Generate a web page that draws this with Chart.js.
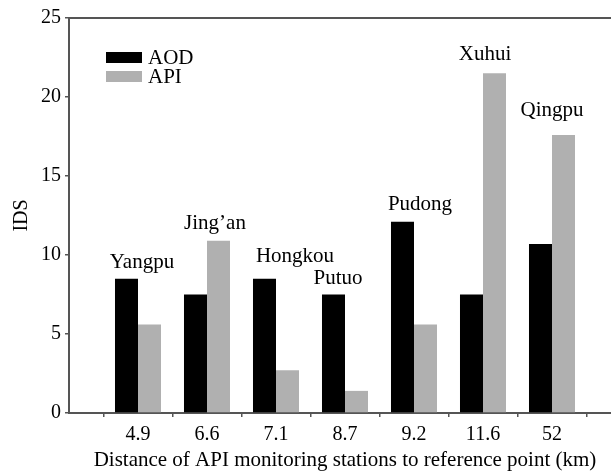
<!DOCTYPE html>
<html>
<head>
<meta charset="utf-8">
<script src="https://cdn.jsdelivr.net/npm/chart.js@4.4.1/dist/chart.umd.min.js"></script>
<style>
html,body{margin:0;padding:0;background:#fff;overflow:hidden;width:611px;height:473px;}
#wrap{width:630px;height:473px;}
</style>
</head>
<body>
<div id="wrap"><canvas id="c" width="630" height="473"></canvas></div>
<script>
// ---- data ----
const distances = ['', '4.9', '6.6', '7.1', '8.7', '9.2', '11.6', '52', ''];
const stations = ['', 'Yangpu', "Jing\u2019an", 'Hongkou', 'Putuo', 'Pudong', 'Xuhui', 'Qingpu', ''];
const aodValues = [null, 8.5, 7.5, 8.5, 7.5, 12.1, 7.5, 10.7, null];
const apiValues = [null, 5.6, 10.9, 2.7, 1.4, 5.6, 21.5, 17.6, null];
const yTicks = [0, 5, 10, 15, 20, 25];

// ---- label layout (pixel offsets, not data) ----
const labelDx = [0, 4, 8, 19, -7, 6, 2, 0, 0];
const labelDy = [0, 16, 17, 22, 16, 17, 19, 24, 0];

const FONT = "'Liberation Serif', 'Times New Roman', serif";
const AXIS = '#555555';

const decor = {
  id: 'decor',
  afterDatasetsDraw(chart) {
    const ctx = chart.ctx;
    const xs = chart.scales.x, ys = chart.scales.y;
    const ca = chart.chartArea;
    ctx.save();
    // top border
    ctx.strokeStyle = AXIS; ctx.lineWidth = 2;
    ctx.beginPath(); ctx.moveTo(ca.left - 1, ca.top); ctx.lineTo(ca.right + 10, ca.top); ctx.stroke();
    // station labels
    ctx.fillStyle = '#000';
    ctx.font = '21px ' + FONT;
    ctx.textAlign = 'center'; ctx.textBaseline = 'middle';
    for (let i = 0; i < stations.length; i++) {
      if (!stations[i]) continue;
      const m = Math.max(aodValues[i], apiValues[i]);
      const x = xs.getPixelForValue(i) + labelDx[i];
      const y = ys.getPixelForValue(m) - labelDy[i];
      ctx.fillText(stations[i], x, y);
    }
    // legend
    const ds = chart.data.datasets;
    ctx.textAlign = 'left';
    ctx.font = '21px ' + FONT;
    ds.forEach((d, k) => {
      const top = 52 + k * 19;
      ctx.fillStyle = d.backgroundColor;
      ctx.fillRect(106, top, 36, 11);
      ctx.fillStyle = '#000';
      ctx.fillText(d.label, 148, top + 6);
    });
    ctx.restore();
  }
};

new Chart(document.getElementById('c'), {
  type: 'bar',
  data: {
    labels: distances,
    datasets: [
      { label: 'AOD', data: aodValues, backgroundColor: '#000000', borderWidth: 0 },
      { label: 'API', data: apiValues, backgroundColor: '#b0b0b0', borderWidth: 0 }
    ]
  },
  plugins: [decor],
  options: {
    responsive: false,
    animation: false,
    events: [],
    layout: { padding: { left: 10, top: 18, right: 9, bottom: 0 } },
    plugins: { legend: { display: false }, tooltip: { enabled: false } },
    datasets: { bar: { categoryPercentage: 0.667, barPercentage: 1.0 } },
    scales: {
      x: {
        type: 'category',
        offset: false,
        afterFit(s) { s.height = 60; },
        grid: { drawOnChartArea: false, drawTicks: true, tickLength: 4, color: AXIS, lineWidth: 1.5 },
        border: { display: true, color: AXIS, width: 2 },
        ticks: { color: '#000', font: { family: FONT, size: 20 }, padding: 6, maxRotation: 0, autoSkip: false },
        title: { display: true, text: 'Distance of API monitoring stations to reference point (km)', color: '#000', font: { family: FONT, size: 21 }, padding: { top: 0, bottom: 0 } }
      },
      y: {
        min: 0, max: 25,
        afterFit(s) { s.width = 59; },
        afterBuildTicks(s) { s.ticks = yTicks.map(v => ({ value: v })); },
        grid: { drawOnChartArea: false, drawTicks: true, tickLength: 4, color: AXIS, lineWidth: 1.5 },
        border: { display: true, color: AXIS, width: 2 },
        ticks: { color: '#000', font: { family: FONT, size: 20 }, padding: 4 },
        title: { display: true, text: 'IDS', color: '#000', font: { family: FONT, size: 20 }, padding: { top: 0, bottom: 0 } }
      }
    }
  }
});
</script>
</body>
</html>
